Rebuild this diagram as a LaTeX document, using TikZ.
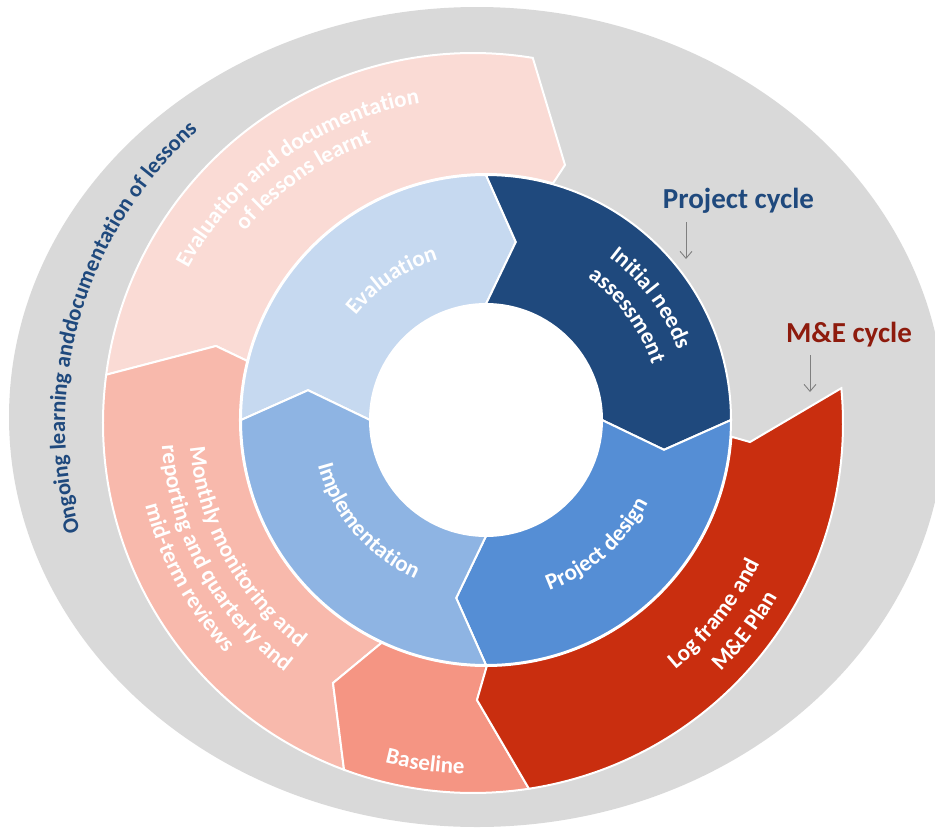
\documentclass[tikz,border=0pt]{standalone}
\usepackage{fontspec}
\setmainfont{Carlito}
\usetikzlibrary{arrows.meta,decorations.text,calc}
\definecolor{ringgrey}{HTML}{D9D9D9}
\definecolor{evalblue}{HTML}{C6D9F0}
\definecolor{needsblue}{HTML}{1F497D}
\definecolor{designblue}{HTML}{558ED5}
\definecolor{implblue}{HTML}{8EB4E3}
\definecolor{evdocpink}{HTML}{FADBD5}
\definecolor{monthpink}{HTML}{F8B9AC}
\definecolor{basepink}{HTML}{F59583}
\definecolor{logred}{HTML}{C92E0F}
\definecolor{pctext}{HTML}{1F497D}
\definecolor{metext}{HTML}{8E1B0D}
\definecolor{arrgrey}{HTML}{7F7F7F}
\newcommand{\lblfont}{\fontsize{23}{27}\selectfont\bfseries}
% centre x, centre y, radius, start angle, end angle, text
\newcommand{\arclabel}[6]{%
  \path[shift={(#1,#2)},decorate,decoration={text along path,text align=center,text color=white,text={|\lblfont|#6}}]
    (#4:#3) arc[start angle=#4,end angle=#5,radius=#3];}
\begin{document}
\begin{tikzpicture}[x=1pt,y=1pt,
  ringseg/.style={draw=white,line width=2pt,line join=miter},
  header/.style={font=\fontsize{29}{34}\selectfont\bfseries,anchor=base,inner sep=0pt},
  pointer/.style={draw=arrgrey,line width=0.9pt,-{Straight Barb[length=7pt,width=12pt]}}]
\useasboundingbox (0,0) rectangle (935,-833);
\clip (0,0) rectangle (935,-833);
\coordinate (O) at (473,-423);
\coordinate (I) at (486,-420);
% grey background ellipse
\fill[ringgrey] (477,-417) ellipse[x radius=468,y radius=410];
\fill[white] (I) circle[radius=117];
% ---------- outer ring (M&E cycle) ----------
\filldraw[ringseg,fill=evdocpink] ($(O)+(172.5:370)$) arc[start angle=172.5,end angle=80.7,radius=370]
  -- (565,-165) -- ($(I)+(74.2:246)$) arc[start angle=74.2,end angle=166.1,radius=246]
  -- (216,-346) -- cycle;
\filldraw[ringseg,fill=monthpink] ($(O)+(-110.4:370)$) arc[start angle=-110.4,end angle=-187.5,radius=370]
  -- (216,-346) -- ($(I)+(166.1:246)$) arc[start angle=166.1,end angle=244.9,radius=246]
  -- (333,-683) -- cycle;
\filldraw[ringseg,fill=basepink] ($(O)+(-81.3:370)$) arc[start angle=-81.3,end angle=-110.4,radius=370]
  -- (333,-683) -- ($(I)+(-115.1:246)$) arc[start angle=-115.1,end angle=-89.8,radius=246]
  -- (477,-700) -- cycle;
\filldraw[ringseg,fill=logred] ($(O)+(5.4:370)$) arc[start angle=5.4,end angle=-81.3,radius=370]
  -- (477,-700) -- ($(I)+(-89.8:246)$) arc[start angle=-89.8,end angle=-3.9,radius=246]
  -- (750,-442) -- cycle;
% ---------- inner ring (project cycle) ----------
\begin{scope}[shift={(486,-420)}]
\filldraw[ringseg,fill=evalblue] (180:245) arc[start angle=180,end angle=90,radius=245]
  -- (80.5:180.5) -- (90:116) arc[start angle=90,end angle=180,radius=116] -- (170.5:180.5) -- cycle;
\filldraw[ringseg,fill=needsblue] (90:245) arc[start angle=90,end angle=0,radius=245]
  -- (-9.5:180.5) -- (0:116) arc[start angle=0,end angle=90,radius=116] -- (80.5:180.5) -- cycle;
\filldraw[ringseg,fill=designblue] (0:245) arc[start angle=0,end angle=-90,radius=245]
  -- (-99.5:180.5) -- (-90:116) arc[start angle=-90,end angle=0,radius=116] -- (-9.5:180.5) -- cycle;
\filldraw[ringseg,fill=implblue] (-90:245) arc[start angle=-90,end angle=-180,radius=245]
  -- (-189.5:180.5) -- (-180:116) arc[start angle=-180,end angle=-90,radius=116] -- (-99.5:180.5) -- cycle;
\end{scope}
% ---------- labels, inner ring ----------
\arclabel{486}{-420}{167}{174}{74}{Evaluation}
\arclabel{486}{-420}{204}{86.5}{-13.5}{Initial needs}
\arclabel{486}{-420}{175}{86.5}{-13.5}{assessment}
\arclabel{486}{-420}{182}{-98.4}{1.6}{Project design}
\arclabel{486}{-420}{174}{170.5}{270.5}{Implementation}
% ---------- labels, outer ring ----------
\arclabel{473}{-423}{324}{185.5}{65.5}{Evaluation and documentation}
\arclabel{473}{-423}{298}{184.9}{64.9}{of lessons learnt}
\arclabel{473}{-423}{284}{148.6}{268.6}{Monthly monitoring and}
\arclabel{473}{-423}{312}{148.5}{268.5}{reporting and quarterly and}
\arclabel{473}{-423}{338}{158.5}{258.5}{mid-term reviews}
\arclabel{473}{-423}{351}{222}{302}{Baseline}
\arclabel{473}{-423}{319}{-88.3}{11.7}{Log frame and}
\arclabel{473}{-423}{351}{-87.4}{12.6}{M{\&}E Plan}
% ---------- curved text in grey band ----------
\path[decorate,decoration={text along path,text align=left,text color=pctext,
  text={|\fontsize{22.5}{26}\selectfont\bfseries|Ongoing learning anddocumentation of lessons}}]
  (80.0,-531.9) arc[start angle=195.5,end angle=100,x radius=411,y radius=400];
% ---------- headers and pointers ----------
\node[header,text=pctext] (pc) at (738.5,-208) {Project cycle};
\node[header,text=metext] (me) at (849,-342) {M\&E cycle};
\coordinate (pcA) at (686,-222);
\coordinate (pcB) at (686,-259);
\coordinate (meA) at (810,-355);
\coordinate (meB) at (810,-392);
\draw[pointer] (pcA) -- (pcB);
\draw[pointer] (meA) -- (meB);
\end{tikzpicture}
\end{document}
